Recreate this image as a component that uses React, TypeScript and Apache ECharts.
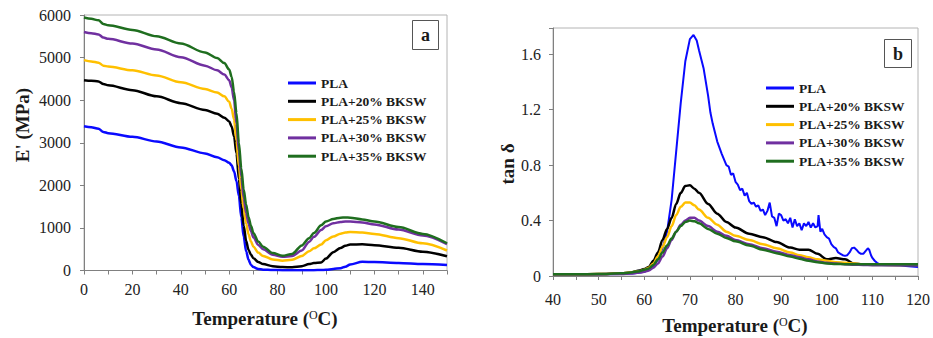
import React, { useEffect, useRef } from "react";
import * as echarts from "echarts";

// ---------- Chart (a): storage modulus E' (MPa) vs temperature ----------
const tempsA = [0, 3, 6, 8, 10, 20, 30, 40, 50, 55, 58, 60, 61, 62, 63, 64, 65, 66, 67, 68, 69, 70, 72, 74, 78, 82, 86, 90, 93, 95, 98, 100, 103, 106, 108, 110, 115, 120, 130, 140, 150];
const ePLA = [3385, 3365, 3330, 3255, 3225, 3140, 3030, 2890, 2750, 2660, 2590, 2530, 2470, 2330, 2100, 1750, 1250, 790, 450, 250, 130, 80, 35, 20, 10, 8, 8, 8, 8, 8, 10, 15, 35, 55, 90, 140, 205, 200, 178, 152, 130];
const eB20 = [4470, 4455, 4440, 4380, 4350, 4235, 4090, 3930, 3770, 3680, 3590, 3500, 3380, 3150, 2750, 2150, 1550, 1050, 700, 480, 370, 290, 200, 150, 100, 80, 78, 100, 150, 175, 190, 280, 430, 530, 580, 610, 615, 595, 535, 440, 335];
const eB25 = [4940, 4910, 4880, 4810, 4790, 4700, 4580, 4420, 4260, 4180, 4090, 3960, 3800, 3550, 3050, 2450, 1900, 1450, 1100, 850, 680, 560, 420, 340, 260, 230, 250, 340, 450, 520, 610, 710, 800, 865, 890, 905, 890, 860, 760, 640, 470];
const eB30 = [5600, 5570, 5545, 5470, 5440, 5330, 5190, 5010, 4810, 4700, 4600, 4470, 4300, 4000, 3450, 2800, 2200, 1700, 1350, 1100, 920, 780, 600, 500, 370, 320, 340, 470, 670, 790, 950, 1040, 1110, 1140, 1150, 1150, 1130, 1080, 960, 820, 620];
const eB35 = [5940, 5910, 5875, 5790, 5760, 5650, 5500, 5330, 5120, 4990, 4870, 4720, 4550, 4200, 3700, 3000, 2400, 1900, 1550, 1250, 1050, 880, 680, 560, 410, 345, 390, 590, 760, 880, 1060, 1150, 1210, 1240, 1245, 1240, 1200, 1150, 1020, 860, 640];

// ---------- Chart (b): tan delta vs temperature ----------
const tempsB = [40, 45, 50, 55, 57, 59, 60, 61, 62, 63, 64, 65, 66, 67, 68, 69, 70, 71, 72, 74, 76, 78, 80, 83, 86, 89, 92, 94, 96, 98, 100, 102, 104, 106, 108, 110, 115, 120];
const tB20 = [0.012, 0.012, 0.014, 0.02, 0.025, 0.04, 0.05, 0.065, 0.11, 0.17, 0.26, 0.34, 0.42, 0.52, 0.6, 0.65, 0.655, 0.63, 0.6, 0.52, 0.45, 0.39, 0.35, 0.305, 0.28, 0.245, 0.205, 0.19, 0.19, 0.16, 0.12, 0.13, 0.12, 0.09, 0.082, 0.08, 0.08, 0.08];
const tB25 = [0.012, 0.012, 0.014, 0.02, 0.025, 0.035, 0.045, 0.06, 0.09, 0.14, 0.21, 0.28, 0.36, 0.44, 0.5, 0.53, 0.53, 0.51, 0.48, 0.42, 0.37, 0.32, 0.29, 0.26, 0.23, 0.2, 0.17, 0.15, 0.135, 0.12, 0.11, 0.1, 0.095, 0.09, 0.085, 0.082, 0.08, 0.08];
const tB30 = [0.012, 0.012, 0.013, 0.015, 0.018, 0.025, 0.03, 0.04, 0.06, 0.09, 0.14, 0.2, 0.26, 0.32, 0.37, 0.4, 0.42, 0.42, 0.4, 0.36, 0.32, 0.29, 0.26, 0.23, 0.2, 0.175, 0.15, 0.135, 0.12, 0.105, 0.095, 0.09, 0.085, 0.082, 0.08, 0.08, 0.08, 0.08];
const tB35 = [0.012, 0.012, 0.014, 0.02, 0.025, 0.035, 0.045, 0.055, 0.08, 0.12, 0.17, 0.22, 0.27, 0.32, 0.36, 0.39, 0.4, 0.395, 0.38, 0.34, 0.305, 0.275, 0.25, 0.22, 0.19, 0.165, 0.14, 0.125, 0.11, 0.1, 0.09, 0.087, 0.085, 0.084, 0.084, 0.085, 0.085, 0.085];

const tempsPLA = [40, 45, 50, 55, 58, 60, 61, 62, 63, 64, 65, 66, 67, 68, 69, 70, 70.8, 71.5, 72, 73, 74, 74.5, 75, 76, 77, 78, 78.5, 79, 79.5, 80, 80.5, 81, 81.5, 82, 82.5, 83, 83.5, 84, 84.5, 85, 85.5, 86, 86.5, 87, 87.5, 88, 88.5, 89, 89.5, 90, 90.5, 91, 91.5, 92, 92.5, 93, 93.5, 94, 94.5, 95, 95.5, 96, 96.5, 97, 97.5, 98, 98.2, 98.6, 99, 99.5, 100, 100.5, 101, 101.5, 102, 102.5, 103, 103.5, 104, 104.5, 105, 105.5, 106, 106.5, 107, 107.5, 108, 108.5, 109, 109.3, 109.7, 110, 110.5, 111, 111.5, 112, 114, 116, 118, 120];
const tPLA = [0.012, 0.012, 0.012, 0.014, 0.02, 0.03, 0.045, 0.07, 0.12, 0.2, 0.32, 0.55, 0.9, 1.25, 1.55, 1.71, 1.74, 1.7, 1.63, 1.5, 1.3, 1.18, 1.1, 0.97, 0.88, 0.8, 0.79, 0.73, 0.74, 0.68, 0.66, 0.62, 0.63, 0.58, 0.6, 0.54, 0.52, 0.53, 0.5, 0.51, 0.47, 0.48, 0.44, 0.47, 0.53, 0.43, 0.42, 0.36, 0.45, 0.44, 0.4, 0.41, 0.38, 0.42, 0.35, 0.41, 0.36, 0.38, 0.33, 0.38, 0.36, 0.39, 0.35, 0.38, 0.35, 0.36, 0.44, 0.32, 0.34, 0.3, 0.28, 0.27, 0.23, 0.21, 0.2, 0.17, 0.16, 0.15, 0.145, 0.15, 0.17, 0.2, 0.205, 0.19, 0.17, 0.16, 0.16, 0.18, 0.2, 0.19, 0.15, 0.13, 0.11, 0.095, 0.085, 0.08, 0.078, 0.075, 0.07, 0.065];

const seriesNames = ["PLA", "PLA+20% BKSW", "PLA+25% BKSW", "PLA+30% BKSW", "PLA+35% BKSW"];
const seriesColors = ["#0a0aff", "#000000", "#ffc000", "#7030a0", "#1f6e1f"];

const xTicksA = [0, 20, 40, 60, 80, 100, 120, 140];
const xTicksB = [40, 50, 60, 70, 80, 90, 100, 110, 120];
const yTicksB = [0, 0.4, 0.8, 1.2, 1.6];

const FONT = "Liberation Serif";

const zip = (xs: number[], ys: number[]) => xs.map((x, i) => [x, ys[i]]);

export default function App() {
  const ref = useRef<HTMLDivElement>(null);

  useEffect(() => {
    if (!ref.current) return;
    const chart = echarts.init(ref.current, null, { renderer: "svg" });

    const axisLine = { show: true, lineStyle: { color: "#808080", width: 1 } };
    const axisTick = { show: true, length: 4, lineStyle: { color: "#808080", width: 1 } };
    const tickRich = { t: { fontFamily: FONT, fontSize: 16, color: "#222", fontWeight: "normal" } };
    const labelStyle = { fontFamily: FONT, fontSize: 16, color: "#222", fontWeight: "normal", rich: tickRich };
    const wrap = (s: string) => (s === "" ? "" : `{t|${s}}`);

    const dataA = [ePLA, eB20, eB25, eB30, eB35];
    const dataB = [tPLA, tB20, tB25, tB30, tB35];

    const seriesA = dataA.map((vals, i) => ({
      name: seriesNames[i],
      type: "line",
      xAxisIndex: 0,
      yAxisIndex: 0,
      data: zip(tempsA, vals),
      showSymbol: false,
      smooth: 0.3,
      smoothMonotone: "x",
      lineStyle: { width: 2.5, color: seriesColors[i] },
      itemStyle: { color: seriesColors[i] },
      z: 2 + i,
    }));

    const seriesB = dataB.map((vals, i) => ({
      name: seriesNames[i],
      type: "line",
      xAxisIndex: 1,
      yAxisIndex: 1,
      data: zip(i === 0 ? tempsPLA : tempsB, vals),
      showSymbol: false,
      smooth: i === 0 ? false : 0.3,
      smoothMonotone: "x",
      lineStyle: { width: i === 0 ? 2 : 2.5, color: seriesColors[i] },
      itemStyle: { color: seriesColors[i] },
      z: i === 0 ? 2 : 3 + i,
    }));

    const legendBase = {
      data: seriesNames,
      orient: "vertical",
      icon: "rect",
      itemWidth: 28,
      itemHeight: 3,
      itemGap: 2.3,
      padding: 0,
      selectedMode: false,
      textStyle: { fontFamily: FONT, fontWeight: "bold", fontSize: 13.5, color: "#1a1a1a", lineHeight: 16 },
    };

    const titleRich = {
      n: { fontFamily: FONT, fontSize: 19, fontWeight: "bold", fill: "#1a1a1a" },
      s: { fontFamily: FONT, fontSize: 12, fontWeight: "normal", fill: "#1a1a1a", verticalAlign: "top" },
    };

    chart.setOption({
      animation: false,
      backgroundColor: "#ffffff",
      textStyle: { fontFamily: FONT },
      grid: [
        { left: 84, top: 15, right: 486, bottom: 67.5, show: true, borderColor: "#b4b4b4", borderWidth: 1 },
        { left: 553, top: 28, right: 15, bottom: 62, show: true, borderColor: "#b4b4b4", borderWidth: 1 },
      ],
      xAxis: [
        {
          gridIndex: 0, type: "value", min: 0, max: 150, interval: 10,
          axisLine, axisTick, splitLine: { show: false },
          axisLabel: { ...labelStyle, margin: 11, formatter: (v: number) => wrap(xTicksA.includes(v) ? String(v) : "") },
        },
        {
          gridIndex: 1, type: "value", min: 40, max: 120, interval: 5,
          axisLine, axisTick, splitLine: { show: false },
          axisLabel: { ...labelStyle, margin: 15, formatter: (v: number) => wrap(xTicksB.includes(v) ? String(v) : "") },
        },
      ],
      yAxis: [
        {
          gridIndex: 0, type: "value", min: 0, max: 6000, interval: 1000,
          axisLine, axisTick, splitLine: { show: false },
          axisLabel: { ...labelStyle, margin: 13, formatter: (v: number) => wrap(String(v)) },
        },
        {
          gridIndex: 1, type: "value", min: 0, max: 1.79, interval: 0.4,
          axisLine, axisTick, splitLine: { show: false },
          axisLabel: {
            ...labelStyle, margin: 12,
            formatter: (v: number) => {
              const t = yTicksB.find((y) => Math.abs(y - v) < 1e-6);
              return wrap(t === undefined ? "" : t === 0 ? "0" : t.toFixed(1));
            },
          },
        },
      ],
      legend: [
        { ...legendBase, left: 288, top: 75 },
        { ...legendBase, left: 766, top: 80 },
      ],
      series: [...seriesA, ...seriesB],
      graphic: [
        {
          type: "text", x: 265, y: 318,
          style: { text: "{n|Temperature (}{s|O}{n|C)}", rich: titleRich, align: "center", verticalAlign: "middle" },
        },
        {
          type: "text", x: 735, y: 325,
          style: { text: "{n|Temperature (}{s|O}{n|C)}", rich: titleRich, align: "center", verticalAlign: "middle" },
        },
        {
          type: "text", x: 22, y: 125, rotation: Math.PI / 2,
          style: { text: "E' (MPa)", fontFamily: FONT, fontSize: 19, fontWeight: "bold", fill: "#1a1a1a", align: "center", verticalAlign: "middle" },
        },
        {
          type: "text", x: 507, y: 164, rotation: Math.PI / 2,
          style: { text: "tan δ", fontFamily: FONT, fontSize: 19, fontWeight: "bold", fill: "#1a1a1a", align: "center", verticalAlign: "middle" },
        },
        {
          type: "rect", shape: { x: 412.5, y: 20.5, width: 26, height: 29 },
          style: { fill: "#ffffff", stroke: "#555555", lineWidth: 1 }, z: 10,
        },
        {
          type: "text", x: 425.5, y: 35, z: 11,
          style: { text: "a", fontFamily: FONT, fontSize: 18, fontWeight: "bold", fill: "#1a1a1a", align: "center", verticalAlign: "middle" },
        },
        {
          type: "rect", shape: { x: 884.5, y: 39.5, width: 27, height: 28 },
          style: { fill: "#ffffff", stroke: "#555555", lineWidth: 1 }, z: 10,
        },
        {
          type: "text", x: 898, y: 54, z: 11,
          style: { text: "b", fontFamily: FONT, fontSize: 18, fontWeight: "bold", fill: "#1a1a1a", align: "center", verticalAlign: "middle" },
        },
      ],
    });

    return () => chart.dispose();
  }, []);

  return (
    <div
      ref={ref}
      style={{ position: "fixed", left: 0, top: 0, width: 933, height: 338, background: "#fff" }}
    />
  );
}
